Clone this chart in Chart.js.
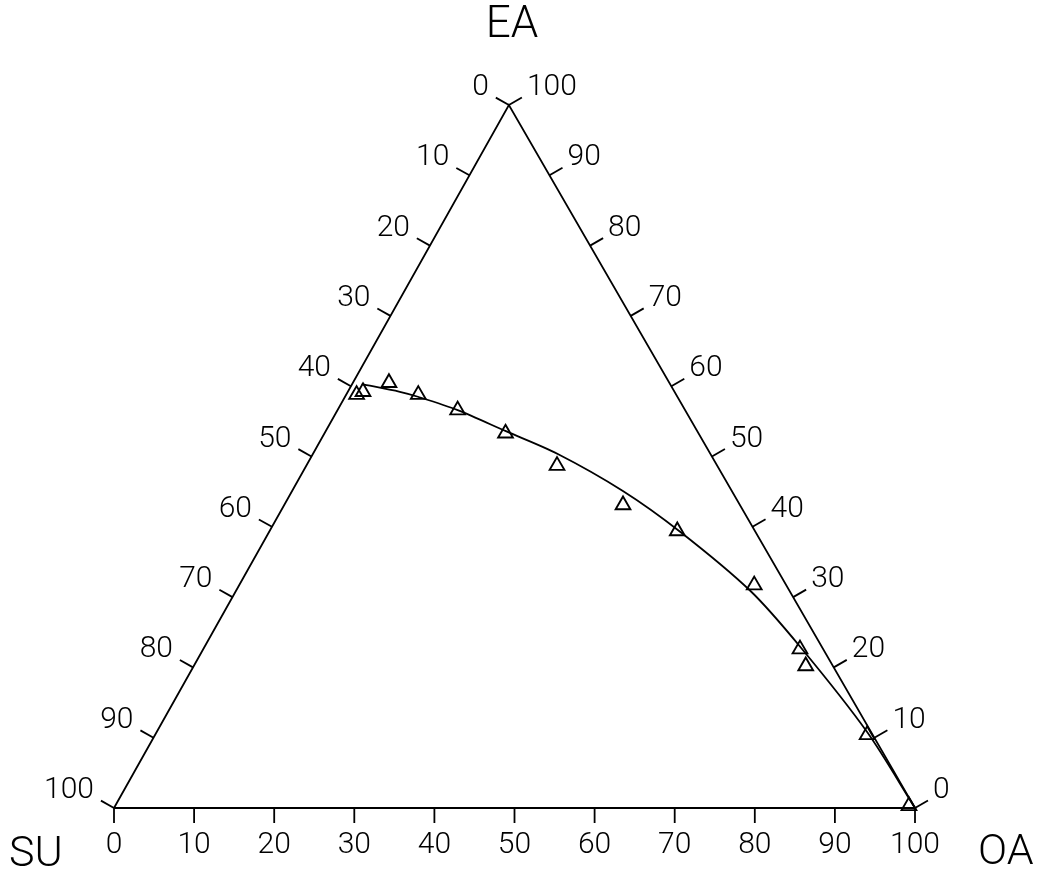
<!DOCTYPE html>
<html>
<head>
<meta charset="utf-8">
<script src="https://cdn.jsdelivr.net/npm/chart.js@4.4.1/dist/chart.umd.min.js"></script>
<style>
  html, body { margin: 0; padding: 0; background: #fff; }
  #c { display: block; }
</style>
</head>
<body>
<canvas id="c" width="1042" height="884"></canvas>
<script>
// ---- Data (ternary percentages) ----
const axisTitles = { top: "EA", left: "SU", right: "OA" };
const tickValues = [0, 10, 20, 30, 40, 50, 60, 70, 80, 90, 100];

// Measured points (triangles): OA %, EA %
const pointOA = [1.3, 1.9, 4.5, 9.0, 15.0, 22.6, 31.3, 42.3, 50.9, 64.3, 74.5, 76.4, 88.9, 99.1];
const pointEA = [58.8, 59.2, 60.5, 58.8, 56.6, 53.3, 48.7, 43.1, 39.4, 31.7, 22.6, 20.2, 10.4, 0.3];
const pointSU = pointOA.map((oa, i) => +(100 - oa - pointEA[i]).toFixed(1));

// Fitted curve: OA %, EA %
const curveOA = [1.2, 6.5, 9.1, 15.0, 22.5, 30.5, 41.3, 51.3, 64.2, 74.4, 88.7, 100];
const curveEA = [60.3, 59.2, 58.5, 56.6, 53.6, 50.4, 45.1, 39.3, 30.9, 22.9, 10.8, 0];

// ---- ternary -> cartesian data units ----
const apexX = 49.3; // horizontal position of EA vertex in data units
function toXY(oa, ea) { return { x: oa + ea * apexX / 100, y: ea }; }

const frameData = [toXY(0, 0), toXY(100, 0), toXY(0, 100), toXY(0, 0)];
const curveData = curveOA.map((oa, i) => toXY(oa, curveEA[i]));
const pointData = pointOA.map((oa, i) => toXY(oa, pointEA[i]));

const FONT = 'Roboto, "Liberation Sans", "DejaVu Sans", sans-serif';

const ternaryPlugin = {
  id: 'ternary',
  afterDraw(chart) {
    const ctx = chart.ctx;
    const xs = chart.scales.x, ys = chart.scales.y;
    const px = p => ({ x: xs.getPixelForValue(p.x), y: ys.getPixelForValue(p.y) });
    const SU = px(toXY(0, 0)), OA = px(toXY(100, 0)), EA = px(toXY(0, 100));
    const cen = { x: (SU.x + OA.x + EA.x) / 3, y: (SU.y + OA.y + EA.y) / 3 };
    function normal(a, b) {
      const dx = b.x - a.x, dy = b.y - a.y, L = Math.hypot(dx, dy);
      let n = { x: dy / L, y: -dx / L };
      const mx = (a.x + b.x) / 2, my = (a.y + b.y) / 2;
      if ((mx + n.x - cen.x) ** 2 + (my + n.y - cen.y) ** 2 < (mx - cen.x) ** 2 + (my - cen.y) ** 2) {
        n = { x: -n.x, y: -n.y };
      }
      return n;
    }
    const nLeft = normal(SU, EA), nRight = normal(OA, EA), nBottom = normal(SU, OA);
    const TL = 15;
    ctx.save();
    ctx.strokeStyle = '#000';
    ctx.fillStyle = '#000';
    ctx.lineWidth = 1.8;
    ctx.font = '300 30px ' + FONT;
    ctx.textBaseline = 'alphabetic';
    tickValues.forEach(v => {
      // left axis: SU value v  -> OA = 0, EA = 100 - v
      let p = px(toXY(0, 100 - v));
      ctx.beginPath(); ctx.moveTo(p.x, p.y); ctx.lineTo(p.x + nLeft.x * TL, p.y + nLeft.y * TL); ctx.stroke();
      ctx.textAlign = 'right';
      ctx.fillText(String(v), p.x - 20, p.y - 10);
      // right axis: EA value v -> OA = 100 - v
      p = px(toXY(100 - v, v));
      ctx.beginPath(); ctx.moveTo(p.x, p.y); ctx.lineTo(p.x + nRight.x * TL, p.y + nRight.y * TL); ctx.stroke();
      ctx.textAlign = 'left';
      ctx.fillText(String(v), p.x + 18, p.y - 10);
      // bottom axis: OA value v
      p = px(toXY(v, 0));
      ctx.beginPath(); ctx.moveTo(p.x, p.y); ctx.lineTo(p.x + nBottom.x * TL, p.y + nBottom.y * TL); ctx.stroke();
      ctx.textAlign = 'center';
      ctx.fillText(String(v), p.x, p.y + 45);
    });
    // axis titles
    ctx.font = '300 44px ' + FONT;
    ctx.textAlign = 'center';
    ctx.fillText(axisTitles.top, EA.x + 3, EA.y - 68);
    ctx.font = '300 43px ' + FONT;
    ctx.textAlign = 'left';
    ctx.fillText(axisTitles.left, SU.x - 105, SU.y + 58);
    ctx.font = '300 43px ' + FONT;
    ctx.fillText(axisTitles.right, OA.x + 63, OA.y + 56);
    ctx.restore();
  }
};

new Chart(document.getElementById('c'), {
  type: 'scatter',
  data: {
    datasets: [
      {
        label: 'frame', data: frameData, showLine: true, borderColor: '#000',
        borderWidth: 1.8, pointRadius: 0, fill: false, clip: false, tension: 0
      },
      {
        label: 'curve', data: curveData, showLine: true, borderColor: '#000',
        borderWidth: 1.8, pointRadius: 0, fill: false, clip: false, tension: 0.3
      },
      {
        label: 'data', data: pointData, showLine: false, pointStyle: 'triangle',
        pointRadius: 8.5, pointBorderWidth: 1.9, pointBorderColor: '#000',
        pointBackgroundColor: 'rgba(0,0,0,0)', clip: false
      }
    ]
  },
  options: {
    responsive: false,
    animation: false,
    layout: { padding: { left: 114, right: 127, top: 105, bottom: 76 } },
    plugins: { legend: { display: false }, tooltip: { enabled: false } },
    scales: {
      x: { type: 'linear', min: 0, max: 100, display: false },
      y: { type: 'linear', min: 0, max: 100, display: false }
    }
  },
  plugins: [ternaryPlugin]
});
</script>
</body>
</html>
